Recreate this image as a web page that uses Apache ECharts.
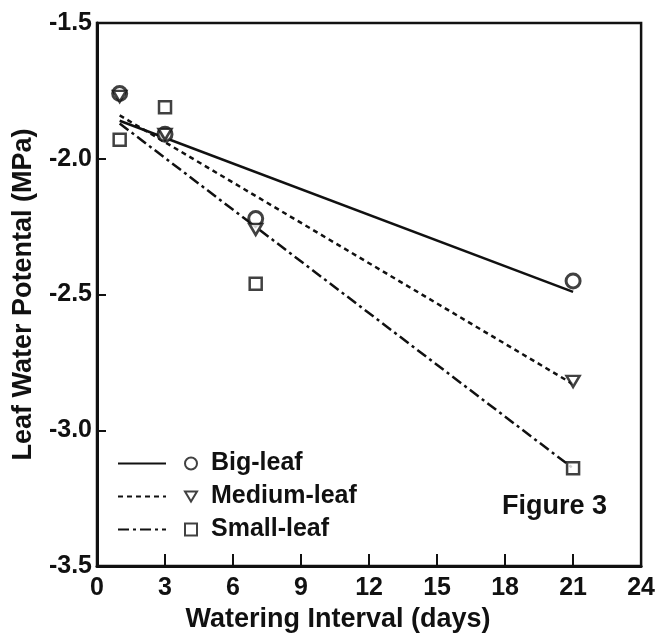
<!DOCTYPE html>
<html>
<head>
<meta charset="utf-8">
<script src="https://cdn.jsdelivr.net/npm/echarts@6/dist/echarts.min.js"></script>
<style>
html,body{margin:0;padding:0;background:#fff;}
#c{width:658px;height:638px;}
</style>
</head>
<body>
<div id="c"></div>
<script>
// Watering interval (days) for observations
var days = [1, 3, 7, 21];
// Leaf water potential (MPa) per leaf size
var bigLeaf = [-1.76, -1.91, -2.22, -2.45];
var mediumLeaf = [-1.77, -1.91, -2.26, -2.82];
var smallLeaf = [-1.93, -1.81, -2.46, -3.14];
// Fitted line end points
var fitDays = [1, 21];
var bigFit = [-1.86, -2.49];
var mediumFit = [-1.84, -2.83];
var smallFit = [-1.87, -3.14];
// Tick labels
var xTicks = ['0', '3', '6', '9', '12', '15', '18', '21', '24'];
var yTicks = ['-3.5', '-3.0', '-2.5', '-2.0', '-1.5'];
var seriesNames = ['Big-leaf', 'Medium-leaf', 'Small-leaf'];

function pairs(xs, ys) { return xs.map(function (x, i) { return [x, ys[i]]; }); }

var FONT = 'Liberation Sans, Arial, sans-serif';
var INK = '#111';
var triDown = 'path://M0,0 L12,0 L6,10 Z';

var chart = echarts.init(document.getElementById('c'), null, { renderer: 'canvas' });

var option = {
  backgroundColor: '#fff',
  animation: false,
  title: {
    text: 'Figure 3',
    left: 502, top: 493, padding: 0,
    textStyle: { fontFamily: FONT, fontWeight: 'bold', fontSize: 27, color: INK }
  },
  grid: {
    left: 97, right: 15, top: 23, bottom: 71,
    show: true, borderColor: INK, borderWidth: 2.5, backgroundColor: 'transparent'
  },
  legend: [
    {
      orient: 'vertical', left: 117, top: 447, padding: 0, itemGap: 0,
      itemWidth: 48, itemHeight: 14,
      data: ['Big-leaf fit', 'Medium-leaf fit', 'Small-leaf fit'],
      formatter: function () { return ' '; },
      itemStyle: { opacity: 0, borderWidth: 0 },
      textStyle: { fontFamily: FONT, fontSize: 25, lineHeight: 33, color: INK },
      selectedMode: false
    },
    {
      orient: 'vertical', left: 184, top: 447, padding: 0, itemGap: 0,
      itemWidth: 12, itemHeight: 12,
      data: seriesNames,
      textStyle: { fontFamily: FONT, fontWeight: 'bold', fontSize: 25, lineHeight: 33, color: INK, padding: [0, 0, 0, 9] },
      selectedMode: false
    }
  ],
  xAxis: {
    type: 'value', min: 0, max: 24, interval: 3,
    name: 'Watering Interval (days)', nameLocation: 'middle', nameGap: 36,
    nameTextStyle: { fontFamily: FONT, fontWeight: 'bold', fontSize: 27, color: INK, padding: [0, 62, 0, 0] },
    axisLine: { show: true, onZero: false, lineStyle: { color: INK, width: 3 } },
    axisTick: { show: true, inside: true, length: 12, lineStyle: { color: INK, width: 2 } },
    axisLabel: {
      margin: 10, fontFamily: FONT, fontWeight: 'bold', fontSize: 25, color: INK,
      formatter: function (v) { return xTicks[Math.round(v / 3)]; }
    },
    splitLine: { show: false }
  },
  yAxis: {
    type: 'value', min: -3.5, max: -1.5, interval: 0.5,
    name: 'Leaf Water Potental (MPa)', nameLocation: 'middle', nameGap: 60,
    nameTextStyle: { fontFamily: FONT, fontWeight: 'bold', fontSize: 27, color: INK },
    axisLine: { show: true, onZero: false, lineStyle: { color: INK, width: 3 } },
    axisTick: { show: true, inside: true, length: 9, lineStyle: { color: INK, width: 2 } },
    axisLabel: {
      margin: 5, fontFamily: FONT, fontWeight: 'bold', fontSize: 25, color: INK,
      formatter: function (v) { return yTicks[Math.round((v + 3.5) / 0.5)]; }
    },
    splitLine: { show: false }
  },
  series: [
    {
      name: 'Big-leaf fit', type: 'line', symbol: 'none', z: 2,
      data: pairs(fitDays, bigFit),
      lineStyle: { color: INK, width: 2.5, type: 'solid' }, itemStyle: { color: INK }
    },
    {
      name: 'Medium-leaf fit', type: 'line', symbol: 'none', z: 2,
      data: pairs(fitDays, mediumFit),
      lineStyle: { color: INK, width: 2.5, type: [5, 4] }, itemStyle: { color: INK }
    },
    {
      name: 'Small-leaf fit', type: 'line', symbol: 'none', z: 2,
      data: pairs(fitDays, smallFit),
      lineStyle: { color: INK, width: 2.5, type: [11, 4, 3, 4] }, itemStyle: { color: INK }
    },
    {
      name: 'Big-leaf', type: 'scatter', symbol: 'circle', symbolSize: 14, z: 3,
      data: pairs(days, bigLeaf),
      itemStyle: { color: '#fff', borderColor: INK, borderWidth: 3 }
    },
    {
      name: 'Medium-leaf', type: 'scatter', symbol: triDown, symbolSize: [13, 11], z: 3,
      data: pairs(days, mediumLeaf),
      itemStyle: { color: '#fff', borderColor: INK, borderWidth: 2.5 }
    },
    {
      name: 'Small-leaf', type: 'scatter', symbol: 'rect', symbolSize: 12, z: 3,
      data: pairs(days, smallLeaf),
      itemStyle: { color: '#fff', borderColor: INK, borderWidth: 2.5 }
    }
  ]
};
chart.setOption(option);
</script>
</body>
</html>
